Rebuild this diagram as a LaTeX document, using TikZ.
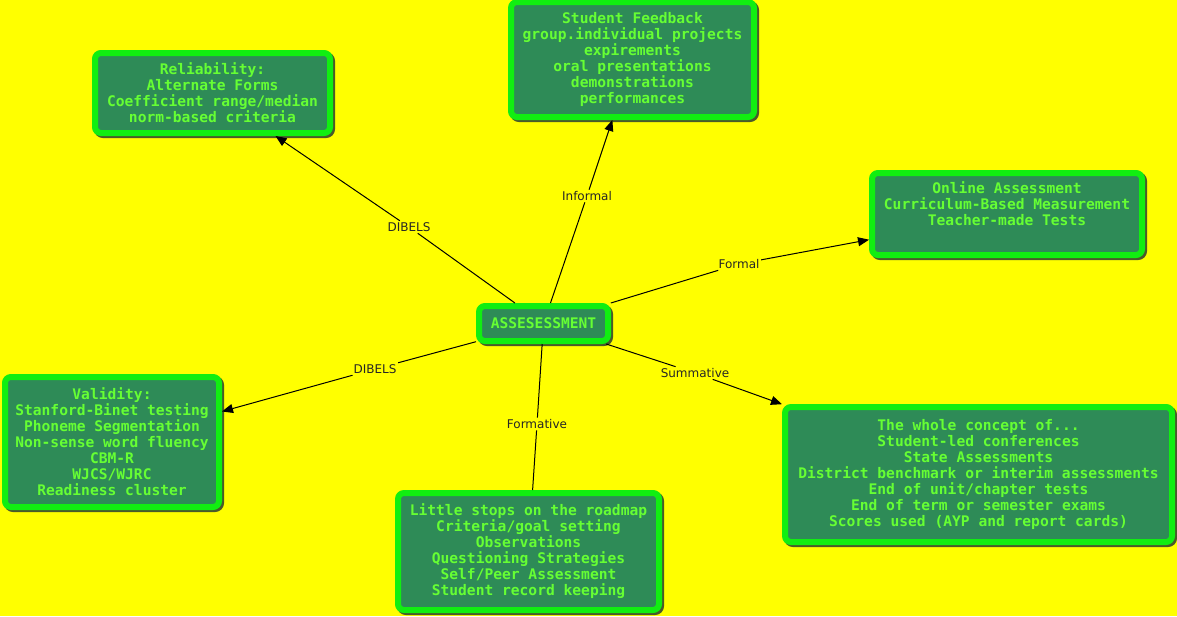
\documentclass[tikz,border=0pt]{standalone}
\usepackage{fontspec}
\setmonofont{DejaVu Sans Mono}
\newfontfamily\labfont{DejaVu Sans}
\usetikzlibrary{arrows.meta}
\definecolor{bg}{HTML}{FFFF00}
\definecolor{rim}{HTML}{11EE11}
\definecolor{fillg}{HTML}{2E8B57}
\definecolor{txtg}{HTML}{66FF33}
\definecolor{shade}{HTML}{4A5A2A}
\begin{document}
\begin{tikzpicture}[x=1pt,y=-1pt,
  cbox/.style={draw=rim, line width=6pt, fill=fillg, rounded corners=6pt,
    text=txtg, font=\ttfamily\bfseries\fontsize{14.6}{16}\selectfont,
    align=center, inner sep=0pt,
    preaction={draw=shade, fill=shade, line width=6pt,
      transform canvas={shift={(2pt,-2pt)}}}},
  lab/.style={font=\labfont\fontsize{12}{14}\selectfont, text=black!85, inner sep=1.5pt},
  conn/.style={draw=black, line width=1pt},
  arr/.style={conn, -{Triangle[length=11pt,width=9pt]}}]
\fill[bg] (0,0) rectangle (1177,616);
\useasboundingbox (0,0) rectangle (1177,616);

\node[cbox, minimum width=235pt, minimum height=80pt] (rel) at (212.5,93)
  {Reliability:\\Alternate Forms\\Coefficient range/median\\norm-based criteria};
\node[cbox, minimum width=243pt, minimum height=115pt] (fb) at (632.5,59.5)
  {Student Feedback\\group.individual projects\\expirements\\oral presentations\\demonstrations\\performances};
\node[cbox, minimum width=270pt, minimum height=82pt] (onl) at (1007,214)
  {Online Assessment\\Curriculum-Based Measurement\\Teacher-made Tests\\ \strut};
\node[cbox, minimum width=129pt, minimum height=35pt] (ctr) at (543.5,323.5)
  {ASSESESSMENT};
\node[cbox, minimum width=214pt, minimum height=130pt] (val) at (112,442)
  {Validity:\\Stanford-Binet testing\\Phoneme Segmentation\\Non-sense word fluency\\CBM-R\\WJCS/WJRC\\Readiness cluster};
\node[cbox, minimum width=261pt, minimum height=117pt] (frm) at (528.5,551.5)
  {Little stops on the roadmap\\Criteria/goal setting\\Observations\\Questioning Strategies\\Self/Peer Assessment\\Student record keeping};
\node[cbox, minimum width=387pt, minimum height=135pt] (sum) at (978.5,474.5)
  {The whole concept of...\\Student-led conferences\\State Assessments\\District benchmark or interim assessments\\End of unit/chapter tests\\End of term or semester exams\\Scores used (AYP and report cards)};

\node[lab] (l1) at (409,227) {DIBELS};
\node[lab] (l2) at (587,196) {Informal};
\node[lab] (l3) at (739,264) {Formal};
\node[lab] (l4) at (695,373) {Summative};
\node[lab] (l5) at (537,424) {Formative};
\node[lab] (l6) at (375,369) {DIBELS};

\draw[conn] (ctr) -- (l1); \draw[arr] (l1) -- (rel);
\draw[conn] (ctr) -- (l2); \draw[arr] (l2) -- (fb);
\draw[conn] (ctr) -- (l3); \draw[arr] (l3) -- (onl);
\draw[conn] (ctr) -- (l4); \draw[arr] (l4) -- (sum);
\draw[conn] (ctr) -- (l5); \draw[conn] (l5) -- (frm);
\draw[conn] (ctr) -- (l6); \draw[arr] (l6) -- (val);
\end{tikzpicture}
\end{document}
